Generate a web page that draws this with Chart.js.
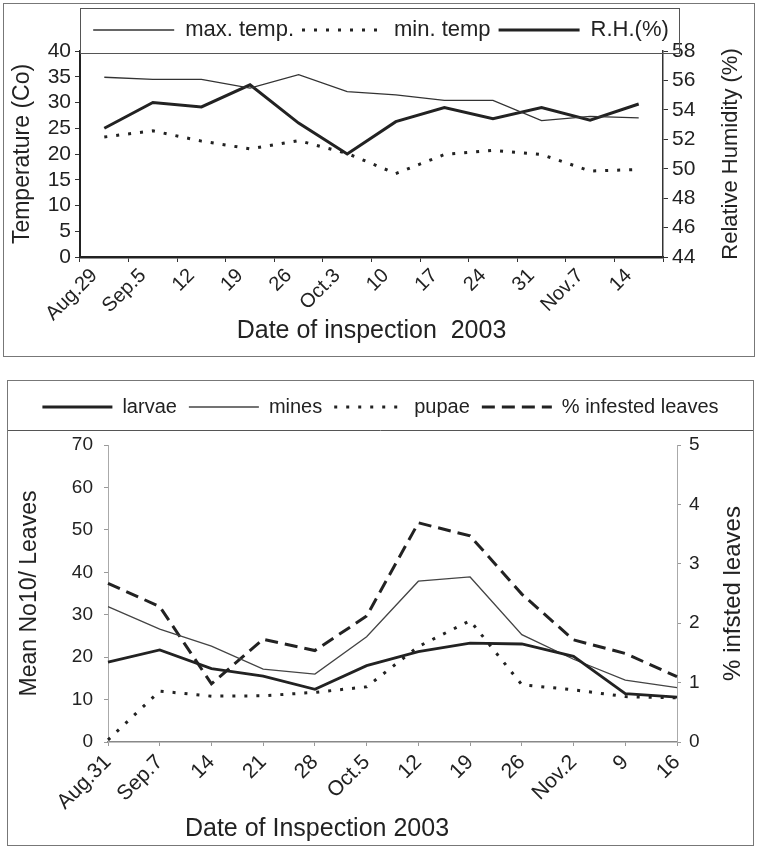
<!DOCTYPE html>
<html>
<head>
<meta charset="utf-8">
<script src="https://cdn.jsdelivr.net/npm/chart.js@4.4.1/dist/chart.umd.min.js"></script>
<style>
  html, body { margin: 0; padding: 0; background: #fff; }
  body { width: 760px; height: 855px; position: relative; overflow: hidden; }
  .box { position: absolute; border: 1px solid #777; box-sizing: border-box; }
  #box1 { left: 3px; top: 3px; width: 752px; height: 354px; }
  #box2 { left: 7px; top: 380px; width: 747px; height: 466px; }
  canvas { display: block; }
</style>
</head>
<body>
<div class="box" id="box1"><canvas id="climateChart" width="750" height="352"></canvas></div>
<div class="box" id="box2"><canvas id="pestChart" width="745" height="464"></canvas></div>
<script>
// Datos del grafico de clima (arriba)
const climateDates = ['Aug.29', 'Sep.5', '12', '19', '26', 'Oct.3', '10', '17', '24', '31', 'Nov.7', '14'];
const maxTemp = [34.9, 34.5, 34.5, 32.8, 35.4, 32.1, 31.5, 30.4, 30.4, 26.5, 27.3, 27.0];
const minTemp = [23.3, 24.5, 22.5, 21.0, 22.6, 20.1, 16.2, 19.9, 20.7, 19.9, 16.7, 17.0];
const relHumidity = [52.75, 54.5, 54.2, 55.7, 53.1, 51.0, 53.2, 54.15, 53.4, 54.15, 53.3, 54.4];

// Datos del grafico de plaga (abajo)
const pestDates = ['Aug.31', 'Sep.7', '14', '21', '28', 'Oct.5', '12', '19', '26', 'Nov.2', '9', '16'];
const larvae = [18.8, 21.7, 17.3, 15.5, 12.4, 18.0, 21.3, 23.3, 23.1, 20.2, 11.4, 10.6];
const mines = [31.9, 26.6, 22.6, 17.2, 16.0, 24.8, 37.9, 38.9, 25.3, 19.5, 14.6, 12.8];
const pupae = [0.5, 12.0, 10.8, 10.9, 11.7, 13.0, 22.5, 28.6, 13.5, 12.3, 10.7, 10.4];
const infested = [2.67, 2.28, 0.98, 1.73, 1.54, 2.12, 3.69, 3.47, 2.49, 1.72, 1.49, 1.10];

const FONT = "'Liberation Sans', Arial, sans-serif";
const INK = '#222';
Chart.defaults.font.family = FONT;
Chart.defaults.color = INK;

// Marco de la leyenda
const legendFrame = {
  id: 'legendFrame',
  afterDraw(chart, args, opts) {
    const { ctx, chartArea, legend } = chart;
    ctx.save();
    ctx.strokeStyle = '#555';
    ctx.lineWidth = 1;
    if (opts.mode === 'box') {
      const top = legend.top - 3;
      ctx.strokeRect(chartArea.left + 0.5, top + 0.5,
        chartArea.right - chartArea.left + 16, chartArea.top + 2 - top);
    } else {
      const y = Math.round(legend.bottom + 3) + 0.5;
      ctx.beginPath();
      ctx.moveTo(0, y);
      ctx.lineTo(chart.width, y);
      ctx.stroke();
    }
    ctx.restore();
  }
};

// Titulos extra (eje derecho de abajo hacia arriba, eje x desplazado)
const extraTitles = {
  id: 'extraTitles',
  afterDraw(chart, args, opts) {
    const ctx = chart.ctx;
    const area = chart.chartArea;
    ctx.save();
    ctx.fillStyle = INK;
    ctx.textAlign = 'center';
    ctx.textBaseline = 'middle';
    if (opts.right) {
      const s = chart.scales.y1;
      ctx.font = opts.right.size + 'px ' + FONT;
      ctx.translate(s.right - opts.right.inset, (area.top + area.bottom) / 2);
      ctx.rotate(-Math.PI / 2);
      ctx.fillText(opts.right.text, 0, 0);
      ctx.setTransform(1, 0, 0, 1, 0, 0);
    }
    if (opts.bottom) {
      ctx.font = opts.bottom.size + 'px ' + FONT;
      ctx.fillText(opts.bottom.text, area.left + opts.bottom.dx, chart.height - opts.bottom.up);
    }
    ctx.restore();
  }
};

// Leyenda con el mismo trazo (punteado, discontinuo) que cada serie
function lineLegendItems(chart) {
  return chart.data.datasets.map((ds, i) => ({
    text: ds.label,
    fillStyle: 'transparent',
    strokeStyle: ds.borderColor,
    lineWidth: ds.borderWidth,
    lineDash: ds.borderDash,
    lineCap: 'butt',
    pointStyle: 'line',
    fontColor: INK,
    hidden: false,
    datasetIndex: i
  }));
}

function lineSet(label, data, width, dash, axis, color) {
  return {
    label: label,
    data: data,
    borderColor: color || INK,
    backgroundColor: 'transparent',
    borderWidth: width,
    borderDash: dash,
    borderCapStyle: 'butt',
    pointRadius: 0,
    fill: false,
    tension: 0,
    yAxisID: axis
  };
}

// Grafico de temperatura y humedad
new Chart(document.getElementById('climateChart'), {
  type: 'line',
  data: {
    labels: climateDates,
    datasets: [
      lineSet('max. temp.', maxTemp, 1.3, [], 'y', '#333'),
      lineSet('min. temp', minTemp, 3, [3, 9], 'y'),
      lineSet('R.H.(%)', relHumidity, 3, [], 'y1')
    ]
  },
  options: {
    responsive: false,
    animation: false,
    events: [],
    layout: { padding: { top: 7, left: 4, right: 0, bottom: 1 } },
    plugins: {
      tooltip: { enabled: false },
      legend: {
        position: 'top',
        labels: {
          usePointStyle: true,
          pointStyle: 'line',
          pointStyleWidth: 81,
          padding: 8,
          color: INK,
          font: { size: 22 },
          generateLabels: lineLegendItems
        }
      },
      legendFrame: { mode: 'box' },
      extraTitles: { right: { text: 'Relative Humidity (%)', size: 22, inset: 23 } }
    },
    scales: {
      x: {
        offset: true,
        grid: { offset: true, drawOnChartArea: false, tickLength: 5, color: '#333' },
        border: { color: INK, width: 2.5 },
        ticks: { autoSkip: false, minRotation: 45, maxRotation: 45, labelOffset: -10, padding: 2, font: { size: 20 }, color: INK },
        title: { display: true, text: 'Date of inspection  2003', font: { size: 25 }, color: INK, padding: { top: 0, bottom: 9 } },
        afterFit(s) { s.height = 98; }
      },
      y: {
        position: 'left',
        min: 0, max: 40,
        ticks: { stepSize: 5, autoSkip: false, padding: 4, font: { size: 21 }, color: INK },
        grid: { drawOnChartArea: false, tickLength: 5, color: '#333' },
        border: { color: INK, width: 2 },
        title: { display: true, text: 'Temperature (Co)', font: { size: 23 }, color: INK, padding: { top: 1, bottom: 0 } },
        afterFit(s) { s.width = 72; }
      },
      y1: {
        position: 'right',
        min: 44, max: 58,
        ticks: { stepSize: 2, autoSkip: false, padding: 4, font: { size: 21 }, color: INK },
        grid: { drawOnChartArea: false, tickLength: 5, color: '#333' },
        border: { color: '#333', width: 1.5 },
        afterFit(s) { s.width = 91; }
      }
    }
  },
  plugins: [legendFrame, extraTitles]
});

// Grafico de larvas, minas, pupas y hojas infestadas
new Chart(document.getElementById('pestChart'), {
  type: 'line',
  data: {
    labels: pestDates,
    datasets: [
      lineSet('larvae', larvae, 2.8, [], 'y'),
      lineSet('mines', mines, 1.3, [], 'y', '#444'),
      lineSet('pupae', pupae, 3, [3, 9], 'y'),
      lineSet('% infested leaves', infested, 3, [13, 7], 'y1')
    ]
  },
  options: {
    responsive: false,
    animation: false,
    events: [],
    layout: { padding: { top: 4, left: 0, right: 0, bottom: 0 } },
    plugins: {
      tooltip: { enabled: false },
      legend: {
        position: 'top',
        labels: {
          usePointStyle: true,
          pointStyle: 'line',
          pointStyleWidth: 70,
          padding: 12,
          color: INK,
          font: { size: 20 },
          generateLabels: lineLegendItems
        }
      },
      // espacio vacio entre la leyenda y el area del grafico
      subtitle: { display: true, text: ' ', weight: 500, font: { size: 1 }, padding: { top: 0, bottom: 16.8 } },
      legendFrame: { mode: 'line' },
      extraTitles: {
        right: { text: '% infsted leaves', size: 24, inset: 20 },
        bottom: { text: 'Date of Inspection 2003', size: 25, dx: 209, up: 16 }
      }
    },
    scales: {
      x: {
        offset: false,
        grid: { drawOnChartArea: false, tickLength: 4, color: '#999' },
        border: { color: '#888', width: 1.5 },
        ticks: { autoSkip: false, minRotation: 45, maxRotation: 45, padding: 4, font: { size: 21 }, color: INK },
        afterFit(s) { s.height = 103; }
      },
      y: {
        position: 'left',
        min: 0, max: 70,
        ticks: { stepSize: 10, autoSkip: false, padding: 11, font: { size: 19 }, color: INK },
        grid: { drawOnChartArea: false, tickLength: 4, color: '#999' },
        border: { color: '#aaa', width: 1 },
        title: { display: true, text: 'Mean No10/ Leaves', font: { size: 23 }, color: INK, padding: { top: 8, bottom: 0 } },
        afterFit(s) { s.width = 100; }
      },
      y1: {
        position: 'right',
        min: 0, max: 5,
        ticks: { stepSize: 1, autoSkip: false, padding: 8, font: { size: 19 }, color: INK },
        grid: { drawOnChartArea: false, tickLength: 4, color: '#999' },
        border: { color: '#aaa', width: 1 },
        afterFit(s) { s.width = 76; }
      }
    }
  },
  plugins: [legendFrame, extraTitles]
});
</script>
</body>
</html>
